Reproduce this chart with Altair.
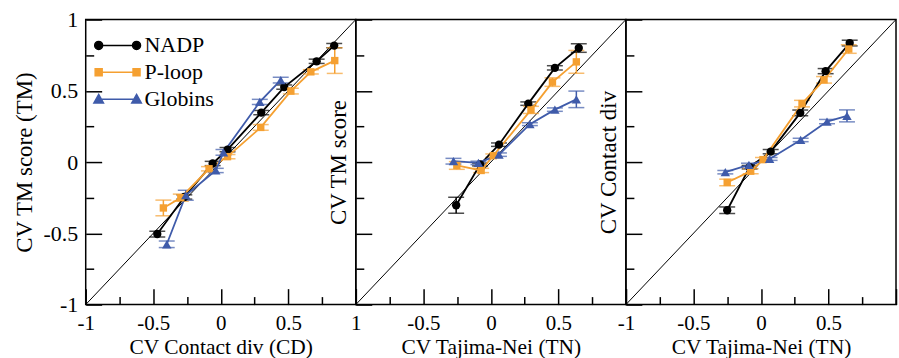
import altair as alt
import pandas as pd

FONT = "Liberation Serif"
SERIES = ["NADP", "P-loop", "Globins"]
COLORS = ["#000000", "#F5A031", "#3F5BAA"]
SHAPES = ["circle", "square", "triangle-up"]
SIZES = [70, 55, 90]

MAJOR = [-1, -0.5, 0, 0.5, 1]
MINOR = [-0.75, -0.25, 0.25, 0.75]
DIAG = [-1, 1]

# ---------- Panel 1: CV Contact div (x) vs CV TM score (y) ----------
p1_nadp_x = [-0.47, -0.27, -0.06, 0.05, 0.30, 0.47, 0.71, 0.84]
p1_nadp_y = [-0.505, -0.245, -0.01, 0.087, 0.347, 0.526, 0.707, 0.817]
p1_nadp_e = [0.02, 0.015, 0.015, 0.015, 0.015, 0.015, 0.015, 0.015]
p1_ploop_x = [-0.425, -0.296, -0.087, 0.05, 0.296, 0.519, 0.667, 0.844]
p1_ploop_y = [-0.322, -0.25, -0.047, 0.038, 0.243, 0.498, 0.633, 0.712]
p1_ploop_e = [0.055, 0.025, 0.015, 0.015, 0.02, 0.02, 0.015, 0.09]
p1_glob_x = [-0.40, -0.259, -0.037, 0.02, 0.289, 0.444]
p1_glob_y = [-0.577, -0.233, -0.059, 0.068, 0.422, 0.575]
p1_glob_e = [0.023, 0.035, 0.015, 0.02, 0.018, 0.02]

# ---------- Panel 2: CV Tajima-Nei (x) vs CV TM score (y) ----------
p2_nadp_x = [-0.257, -0.08, 0.06, 0.277, 0.474, 0.651]
p2_nadp_y = [-0.303, -0.017, 0.122, 0.41, 0.661, 0.80]
p2_nadp_e = [0.056, 0.01, 0.012, 0.012, 0.015, 0.03]
p2_ploop_x = [-0.252, -0.072, 0.018, 0.297, 0.456, 0.633]
p2_ploop_y = [-0.024, -0.059, 0.045, 0.366, 0.561, 0.703]
p2_ploop_e = [0.027, 0.015, 0.012, 0.025, 0.03, 0.08]
p2_glob_x = [-0.277, -0.092, 0.06, 0.289, 0.474, 0.633]
p2_glob_y = [0.006, -0.006, 0.052, 0.266, 0.368, 0.44]
p2_glob_e = [0.02, 0.012, 0.012, 0.01, 0.012, 0.058]

# ---------- Panel 3: CV Tajima-Nei (x) vs CV Contact div (y) ----------
p3_nadp_x = [-0.25, -0.084, 0.072, 0.291, 0.479, 0.657]
p3_nadp_y = [-0.338, -0.036, 0.073, 0.345, 0.638, 0.835]
p3_nadp_e = [0.023, 0.012, 0.015, 0.02, 0.018, 0.02]
p3_ploop_x = [-0.25, -0.076, 0.015, 0.304, 0.467, 0.65]
p3_ploop_y = [-0.143, -0.064, 0.017, 0.41, 0.577, 0.793]
p3_ploop_e = [0.023, 0.018, 0.015, 0.023, 0.023, 0.03]
p3_glob_x = [-0.264, -0.089, 0.064, 0.294, 0.489, 0.637]
p3_glob_y = [-0.071, -0.02, 0.022, 0.155, 0.284, 0.324]
p3_glob_e = [0.012, 0.012, 0.01, 0.012, 0.015, 0.042]


def panel_df(xs, ys, es):
    rows = []
    for name, x, y, e in zip(SERIES, xs, ys, es):
        for xi, yi, ei in zip(x, y, e):
            rows.append({"series": name, "x": xi, "y": yi, "e": ei})
    return pd.DataFrame(rows)


xscale = alt.Scale(domain=[-1, 1], nice=False, zero=False)
yscale = alt.Scale(domain=[-1, 1], nice=False, zero=False)
color_scale = alt.Scale(domain=SERIES, range=COLORS)


def tick_axis(orient, values, size):
    return alt.Axis(orient=orient, values=values, offset=-size, tickSize=size,
                    labels=False, domain=False, grid=False, ticks=True,
                    tickColor="black", tickWidth=1.5)


# legend symbol: a short line with a marker at both ends (unit coords, 1 = 10 px)
def _circle(c, r):
    return f"M{c - r},0A{r},{r},0,1,1,{c + r},0A{r},{r},0,1,1,{c - r},0Z"


def _square(c, r):
    return f"M{c - r},{-r}L{c + r},{-r}L{c + r},{r}L{c - r},{r}Z"


def _tri(c, r):
    return f"M{c},{-r}L{c + r},{r * 0.8}L{c - r},{r * 0.8}Z"


HALF = 1.9
LINE = f"M{-HALF},0L{HALF},0"
PATH_C = LINE + _circle(-HALF, 0.4) + _circle(HALF, 0.4)
PATH_S = LINE + _square(-HALF, 0.35) + _square(HALF, 0.35)
PATH_T = LINE + _tri(-HALF, 0.48) + _tri(HALF, 0.48)
SYM_EXPR = (f"datum.value == 'NADP' ? '{PATH_C}' : "
            f"datum.value == 'P-loop' ? '{PATH_S}' : '{PATH_T}'")
COL_EXPR = (f"datum.value == 'NADP' ? '{COLORS[0]}' : "
            f"datum.value == 'P-loop' ? '{COLORS[1]}' : '{COLORS[2]}'")

LEGEND = alt.Legend(orient="none", legendX=21, legendY=15, title=None,
                    symbolType={"expr": SYM_EXPR}, symbolSize=400,
                    symbolStrokeColor={"expr": COL_EXPR},
                    symbolFillColor={"expr": COL_EXPR},
                    symbolStrokeWidth=1.5, symbolOpacity=1,
                    labelFont=FONT, labelFontSize=22, labelColor="black",
                    labelFontWeight="normal",
                    labelOffset=16, rowPadding=5, padding=0)


def make_panel(df, xtitle, ytitle, xlabels, ylabels, ytitle_pad, legend):
    leg = LEGEND if legend else None
    diag_df = pd.DataFrame({"x": DIAG, "y": DIAG})
    diag = alt.Chart(diag_df).mark_line(color="black", strokeWidth=1).encode(
        x=alt.X("x:Q", scale=xscale, title=None, axis=tick_axis("bottom", MAJOR, 16)),
        y=alt.Y("y:Q", scale=yscale, title=None, axis=tick_axis("left", MAJOR, 16)),
    )
    minor = alt.Chart(diag_df).mark_line(opacity=0).encode(
        x=alt.X("x:Q", scale=xscale, title=None, axis=tick_axis("bottom", MINOR, 8)),
        y=alt.Y("y:Q", scale=yscale, title=None, axis=tick_axis("left", MINOR, 8)),
    )
    base = alt.Chart(df).transform_calculate(
        ylo="datum.y - datum.e", yhi="datum.y + datum.e"
    )
    xnone = alt.X("x:Q", scale=xscale, axis=None)
    col = alt.Color("series:N", scale=color_scale, legend=leg)
    rules = base.mark_rule(strokeWidth=1.5).encode(
        x=xnone, y=alt.Y("ylo:Q", scale=yscale, axis=None), y2="yhi:Q", color=col)
    cap_lo = base.mark_tick(orient="horizontal", size=16, thickness=1.5).encode(
        x=xnone, y=alt.Y("ylo:Q", scale=yscale, axis=None), color=col)
    cap_hi = base.mark_tick(orient="horizontal", size=16, thickness=1.5).encode(
        x=xnone, y=alt.Y("yhi:Q", scale=yscale, axis=None), color=col)

    xaxis = alt.Axis(orient="bottom", values=xlabels, ticks=False, tickSize=0,
                     domain=False, grid=False, labelFlush=False, labelPadding=8,
                     labelFontSize=21, labelExpr="'' + datum.value",
                     labelFont=FONT, titleFont=FONT,
                     titleFontSize=21.5, titlePadding=3)
    if ylabels:
        yaxis = alt.Axis(orient="left", values=MAJOR, ticks=False, tickSize=0,
                         domain=False, grid=False, labelFlush=False, labelPadding=8,
                         labelFontSize=22, labelExpr="'' + datum.value",
                         labelFont=FONT, titleFont=FONT,
                         titleFontSize=23, titlePadding=ytitle_pad)
    else:
        yaxis = alt.Axis(orient="left", values=MAJOR, ticks=False, tickSize=0,
                         domain=False, grid=False, labels=False, titleFont=FONT,
                         titleFontSize=23, titlePadding=ytitle_pad)
    lines = base.mark_line(strokeWidth=1.8).encode(
        x=alt.X("x:Q", scale=xscale, title=xtitle, axis=xaxis),
        y=alt.Y("y:Q", scale=yscale, title=ytitle, axis=yaxis),
        color=col)

    point_layers = []
    for name, shp, sz in zip(SERIES, SHAPES, SIZES):
        pts = base.transform_filter(alt.datum.series == name).mark_point(
            filled=True, opacity=1, shape=shp, size=sz).encode(
            x=xnone, y=alt.Y("y:Q", scale=yscale, axis=None), color=col)
        point_layers.append(pts)

    return alt.layer(diag, minor, rules, cap_lo, cap_hi, lines, *point_layers).resolve_axis(
        x="independent", y="independent").properties(width=271, height=286)


df1 = panel_df([p1_nadp_x, p1_ploop_x, p1_glob_x], [p1_nadp_y, p1_ploop_y, p1_glob_y],
               [p1_nadp_e, p1_ploop_e, p1_glob_e])
df2 = panel_df([p2_nadp_x, p2_ploop_x, p2_glob_x], [p2_nadp_y, p2_ploop_y, p2_glob_y],
               [p2_nadp_e, p2_ploop_e, p2_glob_e])
df3 = panel_df([p3_nadp_x, p3_ploop_x, p3_glob_x], [p3_nadp_y, p3_ploop_y, p3_glob_y],
               [p3_nadp_e, p3_ploop_e, p3_glob_e])

p1 = make_panel(df1, "CV Contact div (CD)", "CV TM score (TM)", MAJOR, True, 7, True)
p2 = make_panel(df2, "CV Tajima-Nei (TN)", "CV TM score", [-0.5, 0, 0.5], False, 5, False)
p3 = make_panel(df3, "CV Tajima-Nei (TN)", "CV Contact div", [-1, -0.5, 0, 0.5], False, 5, False)

chart = alt.hconcat(p1, p2, p3, spacing=0, bounds="flush").resolve_scale(
    color="independent"
).properties(
    padding={"left": 12, "top": 7, "right": 0, "bottom": 0}
).configure_view(
    stroke="black", strokeWidth=1.5
).configure_axis(
    labelFont=FONT, titleFont=FONT, labelColor="black", titleColor="black",
    titleFontWeight="normal"
).configure_legend(
    labelFont=FONT, labelFontSize=22, labelColor="black", labelFontWeight="normal"
)

chart.save("out.html", embed_options={"renderer": "svg", "actions": False})
